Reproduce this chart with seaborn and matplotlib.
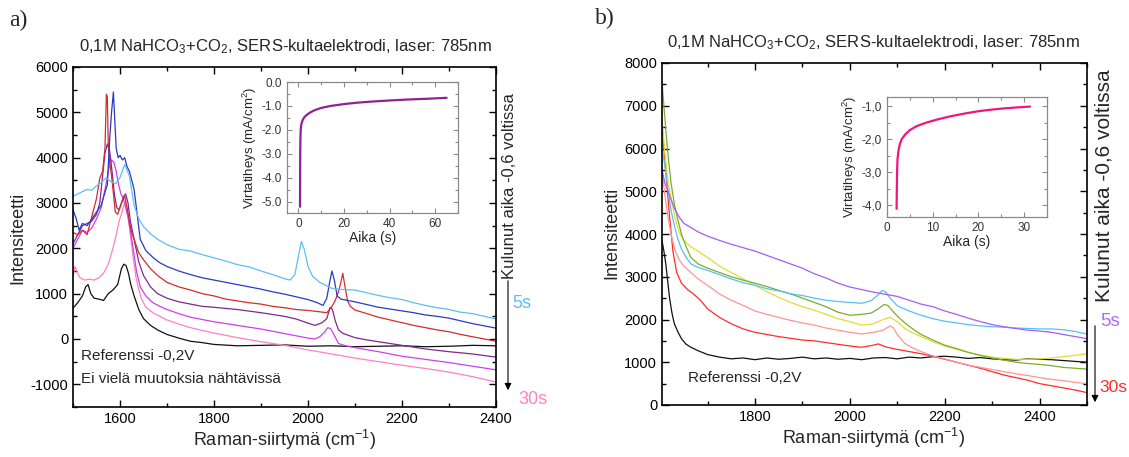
import numpy as np
import pandas as pd
import matplotlib
matplotlib.use("Agg")
import matplotlib.pyplot as plt
from matplotlib.ticker import MultipleLocator, FuncFormatter
import seaborn as sns

# ---------------- Panel a: spectra (Raman shift, intensity) ----------------
a_lblue_x = [1500, 1510, 1520, 1530, 1540, 1550, 1560, 1570, 1580, 1590, 1600, 1610, 1620, 1630, 1640,
             1650, 1665, 1680, 1700, 1725, 1750, 1775, 1800, 1825, 1850, 1875, 1900, 1925, 1950, 1962,
             1972, 1980, 1986, 1992, 2000, 2010, 2025, 2050, 2075, 2100, 2125, 2150, 2175, 2200, 2225,
             2250, 2275, 2300, 2325, 2350, 2375, 2400]
a_lblue_y = [3150, 3200, 3250, 3300, 3280, 3380, 3450, 3550, 3480, 3420, 3560, 3850, 3600, 2950, 2650,
             2480, 2320, 2200, 2080, 1980, 1940, 1860, 1790, 1720, 1640, 1590, 1500, 1420, 1330, 1300,
             1420, 1850, 2150, 1980, 1600, 1380, 1250, 1120, 1090, 1080, 1020, 960, 910, 870, 800,
             740, 690, 650, 590, 560, 500, 440]

a_blue_x = [1500, 1507, 1513, 1520, 1530, 1540, 1550, 1560, 1567, 1573, 1578, 1582, 1586, 1589, 1592,
            1596, 1600, 1605, 1610, 1615, 1620, 1625, 1630, 1636, 1643, 1655, 1670, 1685, 1700, 1725,
            1750, 1775, 1800, 1825, 1850, 1875, 1900, 1925, 1950, 1975, 2000, 2020, 2032, 2040, 2046,
            2051, 2056, 2062, 2070, 2080, 2100, 2125, 2150, 2175, 2200, 2225, 2250, 2275, 2300, 2325,
            2350, 2375, 2400]
a_blue_y = [2850, 2650, 2400, 2550, 2500, 2650, 2800, 2950, 3200, 3400, 4400, 5000, 5450, 4800, 4200,
            4000, 4050, 3950, 4000, 3800, 3700, 3500, 3300, 2800, 2200, 1950, 1800, 1680, 1600, 1500,
            1420, 1350, 1300, 1250, 1200, 1150, 1100, 1040, 990, 930, 870, 800, 740, 900, 1250,
            1500, 1300, 950, 880, 860, 820, 760, 700, 660, 620, 580, 530, 500, 460, 400,
            340, 290, 240]

a_red_x = [1500, 1510, 1520, 1530, 1540, 1550, 1557, 1563, 1568, 1571, 1573, 1575, 1578, 1582, 1586,
           1590, 1595, 1600, 1605, 1610, 1615, 1620, 1625, 1630, 1640, 1650, 1665, 1680, 1700, 1725,
           1750, 1775, 1800, 1825, 1850, 1875, 1900, 1925, 1950, 1975, 2000, 2025, 2040, 2050, 2058,
           2065, 2070, 2074, 2078, 2084, 2090, 2100, 2125, 2150, 2175, 2200, 2225, 2250, 2275, 2300,
           2325, 2350, 2375, 2400]
a_red_y = [2350, 2300, 2400, 2300, 2700, 3100, 3550, 3700, 4200, 5400, 5350, 4300, 3900, 3600, 3200,
           2800, 2750, 2900, 3050, 3150, 2900, 2600, 2350, 2200, 1900, 1750, 1550, 1400, 1250, 1150,
           1080, 1000, 950, 880, 840, 800, 770, 720, 690, 650, 630, 600, 580, 700, 850,
           1050, 1250, 1450, 1200, 850, 720, 640, 560, 480, 420, 360, 300, 250, 200, 160,
           100, 50, 0, -50]

a_ref_x = [1500, 1510, 1520, 1527, 1532, 1538, 1545, 1555, 1565, 1575, 1585, 1595, 1603, 1608, 1613,
           1618, 1623, 1630, 1640, 1650, 1665, 1680, 1700, 1725, 1750, 1775, 1800, 1850, 1900, 1950,
           2000, 2050, 2100, 2150, 2200, 2250, 2300, 2350, 2400]
a_ref_y = [680, 800, 950, 1150, 1200, 1000, 900, 880, 850, 1000, 1080, 1200, 1550, 1650, 1620,
           1450, 1200, 950, 650, 450, 300, 200, 100, 20, -50, -80, -120, -150, -140, -130,
           -160, -150, -170, -160, -150, -170, -160, -140, -150]

a_purple_x = [1500, 1510, 1520, 1530, 1540, 1550, 1557, 1563, 1568, 1573, 1578, 1583, 1588, 1593, 1598,
              1603, 1608, 1612, 1617, 1622, 1630, 1640, 1650, 1665, 1680, 1700, 1725, 1750, 1775, 1800,
              1850, 1900, 1950, 1975, 2000, 2015, 2030, 2040, 2047, 2052, 2058, 2065, 2075, 2100, 2125,
              2150, 2200, 2250, 2300, 2350, 2400]
a_purple_y = [2100, 2300, 2500, 2550, 2600, 2750, 3000, 3600, 4100, 4300, 4150, 3700, 3200, 2900, 2850,
              3000, 3150, 3200, 3000, 2600, 2200, 1700, 1400, 1150, 1000, 900, 820, 770, 720, 700,
              650, 580, 500, 440, 350, 300, 360, 450, 700, 650, 400, 200, 120, 30, -20,
              -60, -140, -220, -280, -330, -400]

a_violet_x = [1500, 1510, 1520, 1530, 1540, 1550, 1560, 1570, 1577, 1582, 1587, 1592, 1597, 1602, 1607,
              1612, 1617, 1622, 1628, 1635, 1643, 1655, 1670, 1685, 1700, 1725, 1750, 1800, 1850, 1900,
              1950, 2000, 2015, 2025, 2035, 2042, 2048, 2055, 2065, 2080, 2100, 2150, 2200, 2250, 2300,
              2350, 2400]
a_violet_y = [2000, 2200, 2400, 2350, 2450, 2650, 2900, 3400, 3800, 3950, 3900, 3700, 3400, 3200, 3100,
              2900, 2700, 2400, 2000, 1500, 1150, 950, 800, 720, 650, 560, 480, 380, 300, 220,
              120, 20, 0, 50, 150, 250, 230, 100, -100, -150, -190, -280, -380, -450, -520,
              -600, -680]

a_pink_x = [1500, 1504, 1508, 1515, 1525, 1535, 1545, 1555, 1565, 1575, 1585, 1592, 1598, 1603, 1608,
            1612, 1617, 1622, 1628, 1635, 1645, 1655, 1670, 1685, 1700, 1725, 1750, 1800, 1850, 1900,
            1950, 2000, 2050, 2100, 2150, 2200, 2250, 2300, 2350, 2400]
a_pink_y = [1350, 1600, 1500, 1350, 1300, 1320, 1300, 1350, 1450, 1650, 2000, 2300, 2600, 2750, 2950,
            3000, 2700, 2300, 1800, 1300, 900, 700, 580, 500, 420, 330, 250, 130, 30, -60,
            -140, -240, -330, -420, -500, -580, -650, -730, -830, -950]

# ---------------- Panel b: spectra ----------------
b_violet_x = [1604, 1610, 1620, 1630, 1640, 1650, 1665, 1680, 1700, 1725, 1750, 1775, 1800, 1825, 1850,
              1875, 1900, 1925, 1950, 1975, 2000, 2025, 2050, 2075, 2100, 2125, 2150, 2175, 2200, 2225,
              2250, 2275, 2300, 2325, 2350, 2375, 2400, 2425, 2450, 2475, 2500]
b_violet_y = [5500, 5200, 4900, 4600, 4400, 4250, 4150, 4050, 3950, 3850, 3760, 3680, 3600, 3500, 3400,
              3300, 3200, 3070, 2970, 2850, 2760, 2700, 2640, 2590, 2540, 2450, 2360, 2300, 2200, 2120,
              2030, 1950, 1880, 1830, 1790, 1750, 1730, 1700, 1650, 1600, 1550]

b_lblue_x = [1604, 1610, 1617, 1624, 1630, 1637, 1645, 1655, 1665, 1680, 1700, 1725, 1750, 1775, 1800,
             1825, 1850, 1875, 1900, 1925, 1950, 1975, 2000, 2025, 2045, 2060, 2068, 2075, 2085, 2100,
             2125, 2150, 2175, 2200, 2225, 2250, 2275, 2300, 2325, 2350, 2375, 2400, 2425, 2450, 2475,
             2500]
b_lblue_y = [6000, 5600, 5000, 4500, 4200, 3900, 3650, 3450, 3300, 3220, 3150, 3050, 2950, 2860, 2800,
             2720, 2670, 2600, 2560, 2500, 2450, 2420, 2400, 2380, 2440, 2580, 2680, 2650, 2500, 2320,
             2200, 2100, 2020, 1960, 1920, 1880, 1850, 1830, 1820, 1800, 1790, 1780, 1780, 1760, 1720,
             1660]

b_green_x = [1604, 1608, 1613, 1618, 1623, 1630, 1637, 1645, 1655, 1665, 1680, 1700, 1725, 1750, 1775,
             1800, 1825, 1850, 1875, 1900, 1925, 1950, 1975, 2000, 2025, 2045, 2060, 2072, 2080, 2090,
             2100, 2115, 2130, 2150, 2175, 2200, 2225, 2250, 2275, 2300, 2325, 2350, 2375, 2400, 2425,
             2450, 2475, 2500]
b_green_y = [7550, 7000, 6300, 5700, 5200, 4700, 4350, 4000, 3700, 3450, 3300, 3200, 3100, 3000, 2920,
             2850, 2770, 2680, 2600, 2500, 2400, 2300, 2170, 2100, 2120, 2150, 2250, 2350, 2330, 2200,
             2080, 1930, 1800, 1650, 1520, 1400, 1320, 1230, 1160, 1100, 1050, 1000, 970, 950, 920,
             880, 860, 840]

b_yellow_x = [1604, 1610, 1617, 1625, 1632, 1640, 1650, 1665, 1680, 1700, 1725, 1750, 1775, 1800, 1825,
              1850, 1875, 1900, 1925, 1950, 1975, 2000, 2025, 2050, 2070, 2085, 2100, 2115, 2130, 2150,
              2175, 2200, 2225, 2250, 2275, 2300, 2325, 2350, 2375, 2400, 2425, 2450, 2475, 2500]
b_yellow_y = [6700, 5900, 5200, 4750, 4350, 4050, 3850, 3700, 3600, 3450, 3250, 3100, 2950, 2800, 2650,
              2520, 2400, 2300, 2220, 2120, 2020, 1950, 1870, 1900, 2000, 2050, 1950, 1800, 1700, 1600,
              1480, 1380, 1300, 1230, 1170, 1120, 1090, 1070, 1070, 1080, 1100, 1130, 1160, 1200]

b_salmon_x = [1604, 1610, 1618, 1625, 1632, 1640, 1650, 1665, 1680, 1700, 1725, 1750, 1775, 1800, 1825,
              1850, 1875, 1900, 1925, 1950, 1975, 2000, 2025, 2050, 2070, 2085, 2092, 2100, 2115, 2130,
              2150, 2175, 2200, 2225, 2250, 2275, 2300, 2325, 2350, 2375, 2400, 2425, 2450, 2475, 2500]
b_salmon_y = [5600, 4900, 4300, 3900, 3600, 3400, 3250, 3100, 2950, 2800, 2600, 2450, 2330, 2200, 2120,
              2050, 1980, 1920, 1870, 1800, 1750, 1700, 1660, 1700, 1750, 1850, 1800, 1650, 1450, 1350,
              1250, 1150, 1080, 1000, 930, 880, 830, 780, 730, 690, 640, 600, 570, 530, 500]

b_red_x = [1604, 1608, 1614, 1620, 1627, 1635, 1645, 1658, 1670, 1685, 1700, 1725, 1750, 1775, 1800,
           1825, 1850, 1875, 1900, 1925, 1950, 1975, 2000, 2025, 2050, 2060, 2075, 2100, 2125, 2150,
           2175, 2200, 2225, 2250, 2275, 2300, 2325, 2350, 2375, 2400, 2425, 2450, 2475, 2500]
b_red_y = [6500, 6000, 5200, 4400, 3600, 3100, 2850, 2700, 2600, 2450, 2250, 2050, 1900, 1780, 1700,
           1650, 1600, 1560, 1520, 1500, 1460, 1420, 1380, 1350, 1400, 1430, 1360, 1300, 1250, 1200,
           1140, 1070, 1000, 930, 860, 780, 700, 640, 580, 500, 450, 400, 350, 290]

b_ref_x = [1604, 1608, 1612, 1616, 1620, 1625, 1630, 1638, 1645, 1655, 1665, 1680, 1700, 1725, 1750,
           1775, 1800, 1825, 1850, 1875, 1900, 1925, 1950, 1975, 2000, 2025, 2050, 2075, 2100, 2125,
           2150, 2175, 2200, 2225, 2250, 2275, 2300, 2325, 2350, 2375, 2400, 2425, 2450, 2475, 2500]
b_ref_y = [3850, 3600, 3300, 2900, 2500, 2150, 1900, 1700, 1550, 1420, 1350, 1270, 1180, 1120, 1080,
           1100, 1060, 1100, 1070, 1090, 1120, 1080, 1100, 1070, 1090, 1060, 1100, 1110, 1080, 1120,
           1100, 1130, 1140, 1120, 1090, 1110, 1080, 1060, 1050, 1080, 1070, 1060, 1040, 1020, 1000]

# ---------------- Insets: current density vs time ----------------
a_time = [0.7, 0.75, 0.8, 0.9, 1.0, 1.3, 1.8, 2.5, 3.5, 5, 7, 10, 14, 20, 26, 33, 40, 48, 56, 65]
a_current = [-5.2, -4.0, -3.0, -2.3, -2.0, -1.75, -1.6, -1.48, -1.38, -1.28, -1.18, -1.08, -1.0, -0.92,
             -0.86, -0.81, -0.77, -0.73, -0.70, -0.66]
b_time = [2.1, 2.15, 2.2, 2.3, 2.5, 2.8, 3.2, 4, 5, 6.5, 8.5, 11, 14, 17, 20, 23, 26, 29, 31.3]
b_current = [-4.1, -3.5, -3.0, -2.6, -2.35, -2.15, -2.0, -1.85, -1.72, -1.6, -1.5, -1.4, -1.3, -1.22,
             -1.15, -1.1, -1.06, -1.03, -1.01]

# ---------------- styling ----------------
sns.set_style("ticks")
plt.rcParams["font.family"] = ["Liberation Sans", "DejaVu Sans"]
plt.rcParams["mathtext.fontset"] = "custom"
plt.rcParams["mathtext.rm"] = "Liberation Sans"
plt.rcParams["mathtext.it"] = "Liberation Sans:italic"
plt.rcParams["axes.unicode_minus"] = False

W, H = 1129, 457
fig = plt.figure(figsize=(W / 100, H / 100), dpi=100)


def box(l, t, r, b):
    return [l / W, 1 - b / H, (r - l) / W, (b - t) / H]


def ftext(x, y, s, **kw):
    fig.text(x / W, 1 - y / H, s, **kw)


def build(series):
    frames = [pd.DataFrame({"shift": x, "intensity": y, "series": name}) for name, x, y in series]
    return pd.concat(frames, ignore_index=True)


def style_main(ax):
    for sp in ax.spines.values():
        sp.set_visible(True)
        sp.set_linewidth(1.2)
        sp.set_color("black")
    ax.tick_params(which="both", direction="in", top=True, right=True, labelsize=10.5,
                   colors="black")
    ax.tick_params(which="major", length=5, width=1)
    ax.tick_params(which="minor", length=3, width=1)
    ax.set_xlabel("")
    ax.set_ylabel("")


def style_inset(ax):
    for sp in ax.spines.values():
        sp.set_visible(True)
        sp.set_linewidth(0.9)
        sp.set_color("#8a8a8a")
    ax.tick_params(which="both", direction="in", top=True, right=True, labelsize=8.5,
                   color="#8a8a8a", labelcolor="#333333")
    ax.tick_params(which="major", length=3.5, width=0.8)
    ax.tick_params(which="minor", length=2, width=0.8)


# ================= Panel a =================
ax_a = fig.add_axes(box(73, 67, 496, 407))
dfa = build([
    ("a_ref", a_ref_x, a_ref_y),
    ("a_pink", a_pink_x, a_pink_y),
    ("a_violet", a_violet_x, a_violet_y),
    ("a_purple", a_purple_x, a_purple_y),
    ("a_red", a_red_x, a_red_y),
    ("a_blue", a_blue_x, a_blue_y),
    ("a_lblue", a_lblue_x, a_lblue_y),
])
pal_a = {"a_lblue": "#5cbff2", "a_blue": "#2a3ac4", "a_red": "#d42c2c", "a_purple": "#7b2a8e",
         "a_violet": "#cc3fee", "a_pink": "#ff80c6", "a_ref": "#111111"}
sns.lineplot(data=dfa, x="shift", y="intensity", hue="series", palette=pal_a, estimator=None,
             sort=False, legend=False, lw=0.9, ax=ax_a)
ax_a.set_xlim(1500, 2400)
ax_a.set_ylim(-1500, 6000)
ax_a.xaxis.set_major_locator(MultipleLocator(200))
ax_a.xaxis.set_minor_locator(MultipleLocator(100))
ax_a.yaxis.set_major_locator(MultipleLocator(1000))
ax_a.yaxis.set_minor_locator(MultipleLocator(500))
style_main(ax_a)
ax_a.set_yticks([-1000, 0, 1000, 2000, 3000, 4000, 5000, 6000])
ax_a.text(0.018, 0.15, "Referenssi -0,2V", transform=ax_a.transAxes, fontsize=11, va="center")
ax_a.text(0.018, 0.082, "Ei vielä muutoksia nähtävissä", transform=ax_a.transAxes, fontsize=11,
          va="center")

ins_a = fig.add_axes(box(287, 82, 458, 213))
sns.lineplot(x=a_time, y=a_current, color="#8e2296", lw=1.6, sort=False, estimator=None, ax=ins_a)
ins_a.set_xlim(-5, 70)
ins_a.set_ylim(-5.46, 0)
ins_a.xaxis.set_major_locator(MultipleLocator(20))
ins_a.xaxis.set_minor_locator(MultipleLocator(10))
ins_a.yaxis.set_major_locator(MultipleLocator(1))
ins_a.yaxis.set_minor_locator(MultipleLocator(0.5))
ins_a.yaxis.set_major_formatter(FuncFormatter(lambda v, _: f"{v:.1f}"))
style_inset(ins_a)
ins_a.set_xlabel("Aika (s)", fontsize=10, labelpad=1)
ins_a.set_ylabel("Virtatiheys (mA/cm$^2$)", fontsize=9.5, labelpad=2)

# ================= Panel b =================
ax_b = fig.add_axes(box(662, 63, 1087, 405))
dfb = build([
    ("b_ref", b_ref_x, b_ref_y),
    ("b_red", b_red_x, b_red_y),
    ("b_salmon", b_salmon_x, b_salmon_y),
    ("b_yellow", b_yellow_x, b_yellow_y),
    ("b_green", b_green_x, b_green_y),
    ("b_lblue", b_lblue_x, b_lblue_y),
    ("b_violet", b_violet_x, b_violet_y),
])
pal_b = {"b_violet": "#a95cf5", "b_lblue": "#55c0f7", "b_green": "#7aae2e", "b_yellow": "#e3dc36",
         "b_salmon": "#ff9494", "b_red": "#ff2b2b", "b_ref": "#111111"}
sns.lineplot(data=dfb, x="shift", y="intensity", hue="series", palette=pal_b, estimator=None,
             sort=False, legend=False, lw=0.9, ax=ax_b)
ax_b.set_xlim(1604, 2500)
ax_b.set_ylim(0, 8000)
ax_b.set_xticks([1800, 2000, 2200, 2400])
ax_b.xaxis.set_minor_locator(MultipleLocator(100))
ax_b.yaxis.set_major_locator(MultipleLocator(1000))
ax_b.yaxis.set_minor_locator(MultipleLocator(500))
style_main(ax_b)
ax_b.text(0.06, 0.079, "Referenssi -0,2V", transform=ax_b.transAxes, fontsize=11, va="center")

ins_b = fig.add_axes(box(887, 97, 1047, 217))
sns.lineplot(x=b_time, y=b_current, color="#f0167e", lw=1.6, sort=False, estimator=None, ax=ins_b)
ins_b.set_xlim(0, 35)
ins_b.set_ylim(-4.35, -0.72)
ins_b.xaxis.set_major_locator(MultipleLocator(10))
ins_b.xaxis.set_minor_locator(MultipleLocator(5))
ins_b.set_yticks([-4, -3, -2, -1])
ins_b.yaxis.set_minor_locator(MultipleLocator(0.5))
ins_b.yaxis.set_major_formatter(FuncFormatter(lambda v, _: f"{v:.1f}".replace(".", ",")))
style_inset(ins_b)
ins_b.set_xlabel("Aika (s)", fontsize=10, labelpad=1)
ins_b.set_ylabel("Virtatiheys (mA/cm$^2$)", fontsize=9.5, labelpad=2)

# ================= figure-level texts =================
title = "0,1M NaHCO$_3$+CO$_2$, SERS-kultaelektrodi, laser: 785nm"
ftext(18, 20, "a)", fontsize=17, family="Liberation Serif", ha="center", va="center")
ftext(605, 18, "b)", fontsize=17, family="Liberation Serif", ha="center", va="center")
ftext(285, 47, title, fontsize=12, ha="center", va="center")
ftext(873, 43, title, fontsize=12, ha="center", va="center")

ftext(18, 238, "Intensiteetti", fontsize=13, rotation=90, ha="center", va="center")
ftext(612, 233, "Intensiteetti", fontsize=13, rotation=90, ha="center", va="center")
ftext(284, 440, "Raman-siirtymä (cm$^{-1}$)", fontsize=13, ha="center", va="center")
ftext(873, 438, "Raman-siirtymä (cm$^{-1}$)", fontsize=13, ha="center", va="center")

# elapsed-time indicators
ftext(509, 186, "Kulunut aika -0,6 voltissa", fontsize=12, rotation=90, ha="center", va="center")
ftext(1104, 186, "Kulunut aika -0,6 voltissa", fontsize=15, rotation=90, ha="center", va="center")
fig.add_artist(matplotlib.patches.FancyArrowPatch((508 / W, 1 - 278 / H), (508 / W, 1 - 393 / H),
                                                  arrowstyle="-|>", mutation_scale=10, lw=0.8,
                                                  color="black", transform=fig.transFigure))
fig.add_artist(matplotlib.patches.FancyArrowPatch((1095 / W, 1 - 323 / H), (1095 / W, 1 - 405 / H),
                                                  arrowstyle="-|>", mutation_scale=10, lw=0.8,
                                                  color="black", transform=fig.transFigure))
ftext(512, 303, "5s", fontsize=13, color="#5cbff2", ha="left", va="center")
ftext(518, 400, "30s", fontsize=13, color="#ff80c6", ha="left", va="center")
ftext(1100, 322, "5s", fontsize=13.5, color="#b06cf0", ha="left", va="center")
ftext(1099, 388, "30s", fontsize=12.5, color="#ff2b2b", ha="left", va="center")

fig.savefig("out.png", dpi=100, facecolor="white")
